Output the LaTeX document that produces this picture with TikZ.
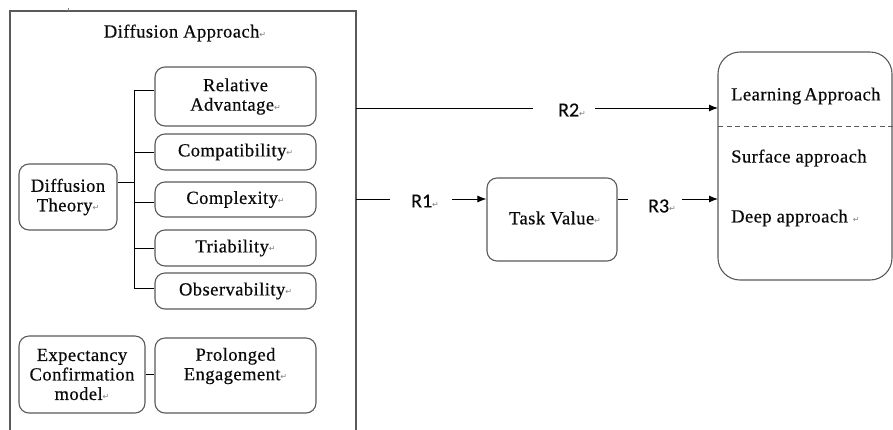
\documentclass[tikz,border=0pt]{standalone}
\usepackage{fontspec}
\setmainfont{Liberation Serif}[LetterSpace=2.5,FakeBold=0.5]
\newfontfamily\rfont{Carlito}[FakeBold=0.3]
\newfontfamily\markfont{DejaVu Sans}
\usetikzlibrary{arrows.meta}
\newcommand{\parmark}{{\markfont\fontsize{8}{8}\selectfont\color{gray}\raisebox{0.1ex}{↵}}}
\definecolor{boxgray}{RGB}{90,90,90}
\definecolor{txt}{RGB}{10,10,10}
\tikzset{
  rbox/.style={draw=boxgray, line width=1.1pt, rounded corners=10pt, align=center,
    text=txt, font=\fontsize{18.5}{19.5}\selectfont, inner sep=0pt},
  lbl/.style={font=\rfont\fontsize{20}{20}\selectfont, text=txt, inner sep=0pt},
  conn/.style={line width=1pt, draw=black},
  arr/.style={line width=1pt, draw=black, -{Latex[length=9pt,width=7pt]}},
  plain/.style={text=txt, inner sep=0pt, font=\fontsize{18.5}{19.5}\selectfont}
}
\begin{document}
\begin{tikzpicture}[x=1pt,y=-1pt]
\useasboundingbox[fill=white] (0,0) rectangle (893,429);
% outer frame
\draw[boxgray, line width=1.3pt] (10,432) -- (10,11) -- (356,11) -- (356,432);
\coordinate (frameR2) at (356,108);
\coordinate (frameR1) at (356,199);
\draw[gray, line width=0.8pt] (68,8) -- (68,11);
\node[plain] (title) at (185,33) {Diffusion Approach\parmark};

% boxes
\node[rbox, minimum width=161pt, minimum height=59pt] (ra) at (235.5,96.5) {Relative\\ Advantage\parmark};
\node[rbox, minimum width=161pt, minimum height=36pt] (comp) at (235.5,152) {Compatibility\parmark};
\node[rbox, minimum width=161pt, minimum height=35pt] (cplx) at (235.5,199.5) {Complexity\parmark};
\node[rbox, minimum width=161pt, minimum height=36pt] (tri) at (235.5,248) {Triability\parmark};
\node[rbox, minimum width=161pt, minimum height=36pt] (obs) at (235.5,291) {Observability\parmark};
\node[rbox, minimum width=98pt, minimum height=66pt] (dt) at (68,197) {Diffusion\\ Theory\parmark};
\node[rbox, minimum width=126pt, minimum height=77pt] (ec) at (82,374.5) {Expectancy\\ Confirmation\\ model\parmark};
\node[rbox, minimum width=161pt, minimum height=75pt] (pe) at (235.5,375.5) {};
\node[plain, align=center] (pet) at (235.5,366) {Prolonged\\ Engagement\parmark};

% bracket
\coordinate (bt) at (134,90);
\coordinate (bb) at (134,288);
\draw[conn] (bt) -- (bb);
\draw[conn] (bt) -- (ra.west |- bt);
\draw[conn] (134,152) -- (comp.west);
\draw[conn] (134,202) -- (cplx.west |- 0,202);
\draw[conn] (134,248) -- (tri.west);
\draw[conn] (134,288) -- (obs.west |- 0,288);
\draw[conn] (dt.east |- 0,182) -- (134,182);
\draw[conn] (ec.east |- 0,374) -- (pe.west |- 0,374);

% right part
\node[rbox, minimum width=130pt, minimum height=83pt] (tv) at (552,219.5) {};
\node[plain] (tvt) at (555,218) {Task Value\parmark};
\draw[draw=boxgray, line width=1.1pt, rounded corners=22pt] (718,52) rectangle (892,280);
\coordinate (lbw) at (718,108);
\coordinate (lbw2) at (718,199);
\draw[boxgray, line width=1pt, dash pattern=on 5pt off 3.5pt] (718,126) -- (893,126);
\node[plain, anchor=west] (la) at (731,96) {Learning\,Approach};
\node[plain, anchor=west] (sa) at (731,158) {Surface approach};
\node[plain, anchor=west] (da) at (731,218) {Deep approach \parmark};

\node[lbl] (r2) at (572,110) {R2\parmark};
\draw[conn] (frameR2) -- (533,108);
\draw[arr] (595,108) -- (lbw);

\node[lbl] (r1) at (425,201) {R1\parmark};
\draw[conn] (frameR1) -- (390,199);
\draw[arr] (452,199) -- (tv.west |- 0,199);

\node[lbl] (r3) at (662,206) {R3\parmark};
\draw[conn] (tv.east |- 0,199) -- (628,199);
\draw[arr] (682,199) -- (lbw2);
\end{tikzpicture}
\end{document}
